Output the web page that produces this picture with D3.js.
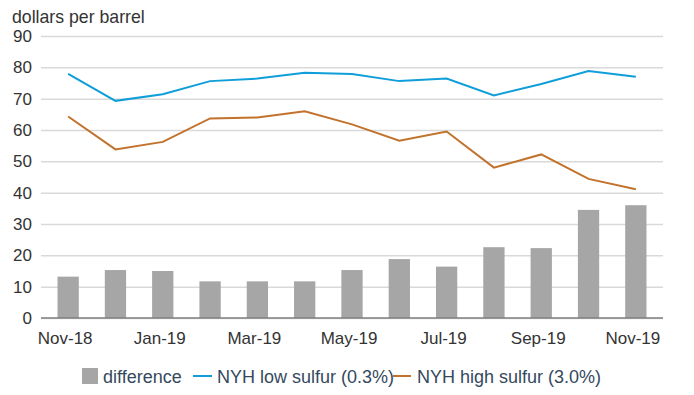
<!DOCTYPE html>
<html><head><meta charset="utf-8">
<script src="https://cdn.jsdelivr.net/npm/d3@7"></script>
<style>
body{margin:0;background:#fff;}
svg text{font-family:"Liberation Sans",Arial,sans-serif;}
</style></head>
<body><svg id="c" width="694" height="395"></svg>
<script>
const categories = ["Nov-18","Dec-18","Jan-19","Feb-19","Mar-19","Apr-19","May-19","Jun-19","Jul-19","Aug-19","Sep-19","Oct-19","Nov-19"];
const difference = [13.2,15.3,15.0,11.7,11.7,11.7,15.3,18.8,16.4,22.6,22.3,34.5,36.0];
const lowSulfur = [77.9,69.3,71.4,75.6,76.4,78.3,77.9,75.6,76.4,71.0,74.7,78.8,77.0];
const highSulfur = [64.3,53.8,56.2,63.7,64.0,66.0,61.8,56.6,59.5,48.0,52.2,44.4,41.1];
const yTicks = [0,10,20,30,40,50,60,70,80,90];
const xTickLabels = ["Nov-18","Jan-19","Mar-19","May-19","Jul-19","Sep-19","Nov-19"];

const svg = d3.select("#c");
const gridLeft = 41, gridRight = 663;
const x = d3.scaleBand().domain(categories).range([44.5, 659.5]).paddingInner(0.55).paddingOuter(0.275);
const y = d3.scaleLinear().domain([0, 90]).range([318, 36]);

// gridlines + y labels
const yAxis = svg.append("g").attr("transform", `translate(${gridLeft},0)`)
  .call(d3.axisLeft(y).tickValues(yTicks).tickSize(-(gridRight - gridLeft)).tickPadding(9));
yAxis.select(".domain").remove();
yAxis.selectAll(".tick line").attr("stroke", "#d9d9d9").attr("stroke-width", 1.5);
yAxis.selectAll(".tick text").attr("fill", "#333").attr("font-size", 17)
  .attr("font-family", "Liberation Sans, Arial, sans-serif");

// bars
svg.append("g").selectAll("rect").data(difference).join("rect")
  .attr("x", (d, i) => x(categories[i]))
  .attr("y", d => y(d))
  .attr("width", x.bandwidth())
  .attr("height", d => y(0) - y(d))
  .attr("fill", "#a6a6a6");

// baseline
svg.append("line").attr("x1", gridLeft).attr("x2", gridRight)
  .attr("y1", y(0)).attr("y2", y(0)).attr("stroke", "#7f7f7f").attr("stroke-width", 1.5);

// lines
const line = d3.line().x((d, i) => x(categories[i]) + x.bandwidth() / 2).y(d => y(d));
svg.append("path").datum(lowSulfur).attr("d", line).attr("fill", "none")
  .attr("stroke", "#0f9ed9").attr("stroke-width", 2);
svg.append("path").datum(highSulfur).attr("d", line).attr("fill", "none")
  .attr("stroke", "#c2722c").attr("stroke-width", 2);

// x axis labels
const xAxis = svg.append("g").attr("transform", `translate(0,${y(0)})`)
  .call(d3.axisBottom(x).tickValues(xTickLabels).tickSize(0).tickPadding(14));
xAxis.select(".domain").remove();
xAxis.selectAll(".tick text").attr("fill", "#333").attr("font-size", 17)
  .attr("dx", -3).attr("font-family", "Liberation Sans, Arial, sans-serif");

// unit label
svg.append("text").attr("x", 12).attr("y", 23).attr("font-size", 17.7).attr("fill", "#333")
  .text("dollars per barrel");

// legend
const lc = "#34495e";
const lg = svg.append("g").attr("font-size", 18);
lg.append("rect").attr("x", 82).attr("y", 368).attr("width", 16).attr("height", 16).attr("fill", "#a6a6a6");
lg.append("text").attr("x", 103).attr("y", 382.5).attr("fill", lc).text("difference");
lg.append("line").attr("x1", 193).attr("x2", 212).attr("y1", 376).attr("y2", 376).attr("stroke", "#0f9ed9").attr("stroke-width", 2);
lg.append("text").attr("x", 217).attr("y", 382.5).attr("fill", lc).text("NYH low sulfur (0.3%)");
lg.append("line").attr("x1", 393).attr("x2", 411).attr("y1", 376).attr("y2", 376).attr("stroke", "#c2722c").attr("stroke-width", 2);
lg.append("text").attr("x", 417).attr("y", 382.5).attr("fill", lc).text("NYH high sulfur (3.0%)");
</script></body></html>
